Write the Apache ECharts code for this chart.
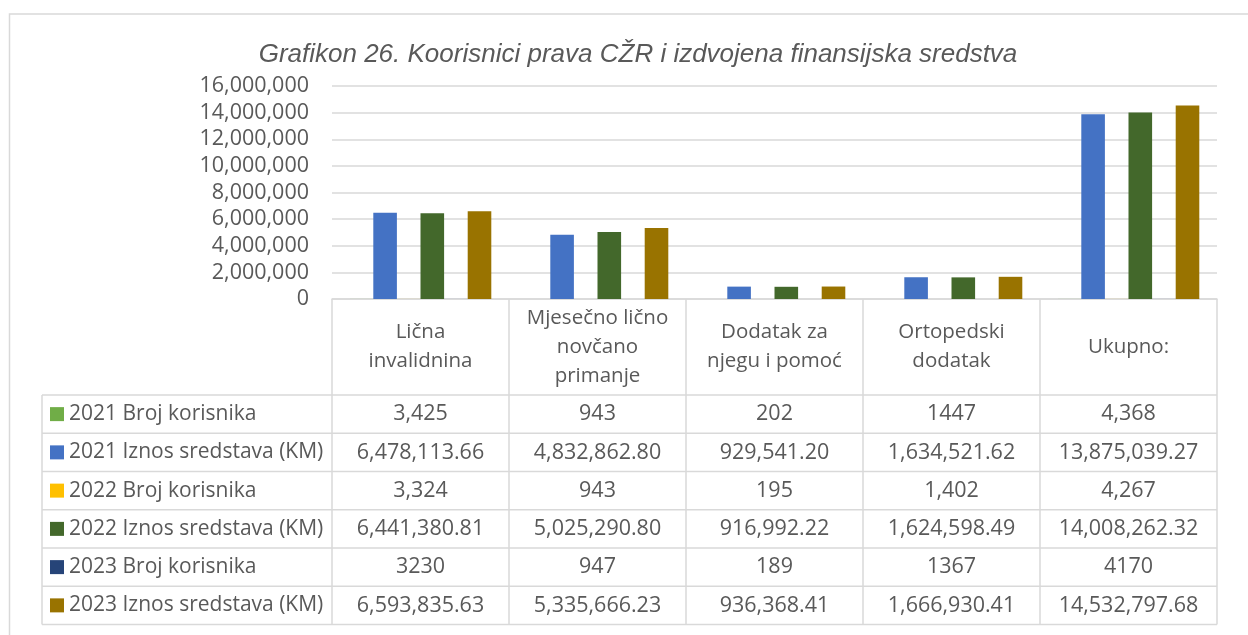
<!DOCTYPE html>
<html>
<head>
<meta charset="utf-8">
<title>Grafikon 26</title>
<script src="https://cdn.jsdelivr.net/npm/echarts@6/dist/echarts.min.js"></script>
<style>
  html, body { margin: 0; padding: 0; background: #ffffff; }
  #chart { width: 1248px; height: 635px; }
</style>
</head>
<body>
<div id="chart"></div>
<script>
// Categories of rights and the amounts / beneficiaries per year
const categories = ['Lična invalidnina', 'Mjesečno lično novčano primanje', 'Dodatak za njegu i pomoć', 'Ortopedski dodatak', 'Ukupno:'];
const seriesNames = [
  '2021 Broj korisnika', '2021 Iznos sredstava (KM)',
  '2022 Broj korisnika', '2022 Iznos sredstava (KM)',
  '2023 Broj korisnika', '2023 Iznos sredstava (KM)'
];
const broj2021  = ['3,425', '943', '202', '1447', '4,368'];
const iznos2021 = ['6,478,113.66', '4,832,862.80', '929,541.20', '1,634,521.62', '13,875,039.27'];
const broj2022  = ['3,324', '943', '195', '1,402', '4,267'];
const iznos2022 = ['6,441,380.81', '5,025,290.80', '916,992.22', '1,624,598.49', '14,008,262.32'];
const broj2023  = ['3230', '947', '189', '1367', '4170'];
const iznos2023 = ['6,593,835.63', '5,335,666.23', '936,368.41', '1,666,930.41', '14,532,797.68'];
const yTicks = [0, 2000000, 4000000, 6000000, 8000000, 10000000, 12000000, 14000000, 16000000];

const rows = [broj2021, iznos2021, broj2022, iznos2022, broj2023, iznos2023];
const colors = ['#70AD47', '#4472C4', '#FFC000', '#43682B', '#264478', '#997300'];
const toNum = s => parseFloat(s.replace(/,/g, ''));

const FONT = "'Open Sans', 'Noto Sans', sans-serif";
const TEXT = '#595959';
const LINE = '#D9D9D9';
const W = 1248, H = 635;
const GRID_L = 332, GRID_R = 1217, GRID_T = 86, GRID_B = 299;
const HEADER_B = 395, ROW_H = 38.25, TABLE_L = 42;
const HEADER_SIZE = 20.5, HEADER_WRAP = 150;

// Greedy word wrap of the header captions, measured with the caption font
const measureCtx = document.createElement('canvas').getContext('2d');
measureCtx.font = HEADER_SIZE + 'px ' + FONT;
function wrapCaption(text) {
  const lines = [];
  let cur = '';
  text.split(' ').forEach(word => {
    const next = cur ? cur + ' ' + word : word;
    if (cur && measureCtx.measureText(next).width > HEADER_WRAP) {
      lines.push(cur);
      cur = word;
    } else {
      cur = next;
    }
  });
  if (cur) lines.push(cur);
  return lines.join('\n');
}

const chart = echarts.init(document.getElementById('chart'), null, { renderer: 'canvas' });

chart.setOption({
  backgroundColor: '#ffffff',
  animation: false,
  title: {
    text: 'Grafikon 26. Koorisnici prava CŽR i izdvojena finansijska sredstva',
    left: 633,
    top: 37,
    textAlign: 'center',
    textStyle: {
      fontFamily: "'Liberation Sans', Arial, sans-serif",
      fontStyle: 'italic',
      fontWeight: 'normal',
      fontSize: 26,
      color: TEXT
    }
  },
  legend: {
    orient: 'vertical',
    left: 50,
    top: HEADER_B + ROW_H / 2 - 11,
    padding: 0,
    itemWidth: 14,
    itemHeight: 14,
    itemGap: ROW_H - 22,
    icon: 'rect',
    selectedMode: false,
    data: seriesNames,
    textStyle: { fontFamily: FONT, fontSize: 21, color: TEXT, lineHeight: 22 }
  },
  grid: {
    left: GRID_L, right: W - GRID_R, top: GRID_T, bottom: H - GRID_B,
    containLabel: false, outerBoundsMode: 'none'
  },
  xAxis: {
    type: 'category',
    data: categories,
    axisLine: { lineStyle: { color: LINE, width: 1.5 } },
    axisTick: { show: false },
    axisLabel: {
      interval: 0,
      margin: 48,
      verticalAlign: 'middle',
      lineHeight: 29,
      fontFamily: FONT,
      fontSize: HEADER_SIZE,
      color: TEXT,
      formatter: wrapCaption
    }
  },
  yAxis: {
    type: 'value',
    min: yTicks[0],
    max: yTicks[yTicks.length - 1],
    interval: yTicks[1] - yTicks[0],
    axisLine: { show: false },
    axisTick: { show: false },
    axisLabel: {
      margin: 23,
      fontFamily: FONT,
      fontSize: 21.5,
      color: TEXT,
      formatter: v => v.toLocaleString('en-US')
    },
    splitLine: { lineStyle: { color: LINE, width: 1.5 } }
  },
  series: rows.map((r, k) => ({
    type: 'bar',
    name: seriesNames[k],
    data: r.map(toNum),
    itemStyle: { color: colors[k] },
    barGap: '0%',
    barCategoryGap: '20%'
  }))
});

// Data table under the plot: borders plus one text cell per value
function buildTable() {
  const centers = categories.map(c => chart.convertToPixel({ xAxisIndex: 0 }, c));
  const band = centers[1] - centers[0];
  const bottom = HEADER_B + ROW_H * rows.length;
  const els = [];
  const line = (x1, y1, x2, y2) => els.push({
    type: 'line', silent: true, z: 10,
    shape: { x1, y1, x2, y2 },
    style: { stroke: LINE, lineWidth: 1.5 }
  });
  // outer chart-area frame
  els.push({
    type: 'rect', silent: true, z: 0,
    shape: { x: 9.5, y: 14, width: W + 20, height: H + 20 },
    style: { fill: null, stroke: LINE, lineWidth: 1.5 }
  });
  for (let k = 0; k <= rows.length; k++) {
    const y = HEADER_B + k * ROW_H;
    line(TABLE_L, y, centers[centers.length - 1] + band / 2, y);
  }
  line(TABLE_L, HEADER_B, TABLE_L, bottom);
  for (let j = 0; j <= categories.length; j++) {
    const x = centers[0] - band / 2 + j * band;
    line(x, GRID_B, x, bottom);
  }
  rows.forEach((r, k) => {
    const y = HEADER_B + (k + 0.5) * ROW_H;
    r.forEach((val, i) => {
      els.push({
        type: 'text', silent: true, z: 11,
        style: {
          text: val, x: centers[i], y,
          align: 'center', verticalAlign: 'middle',
          textAlign: 'center', textVerticalAlign: 'middle',
          fontFamily: FONT, fontSize: 21.5, fill: TEXT
        }
      });
    });
  });
  chart.setOption({ graphic: els });
}
buildTable();
</script>
</body>
</html>
